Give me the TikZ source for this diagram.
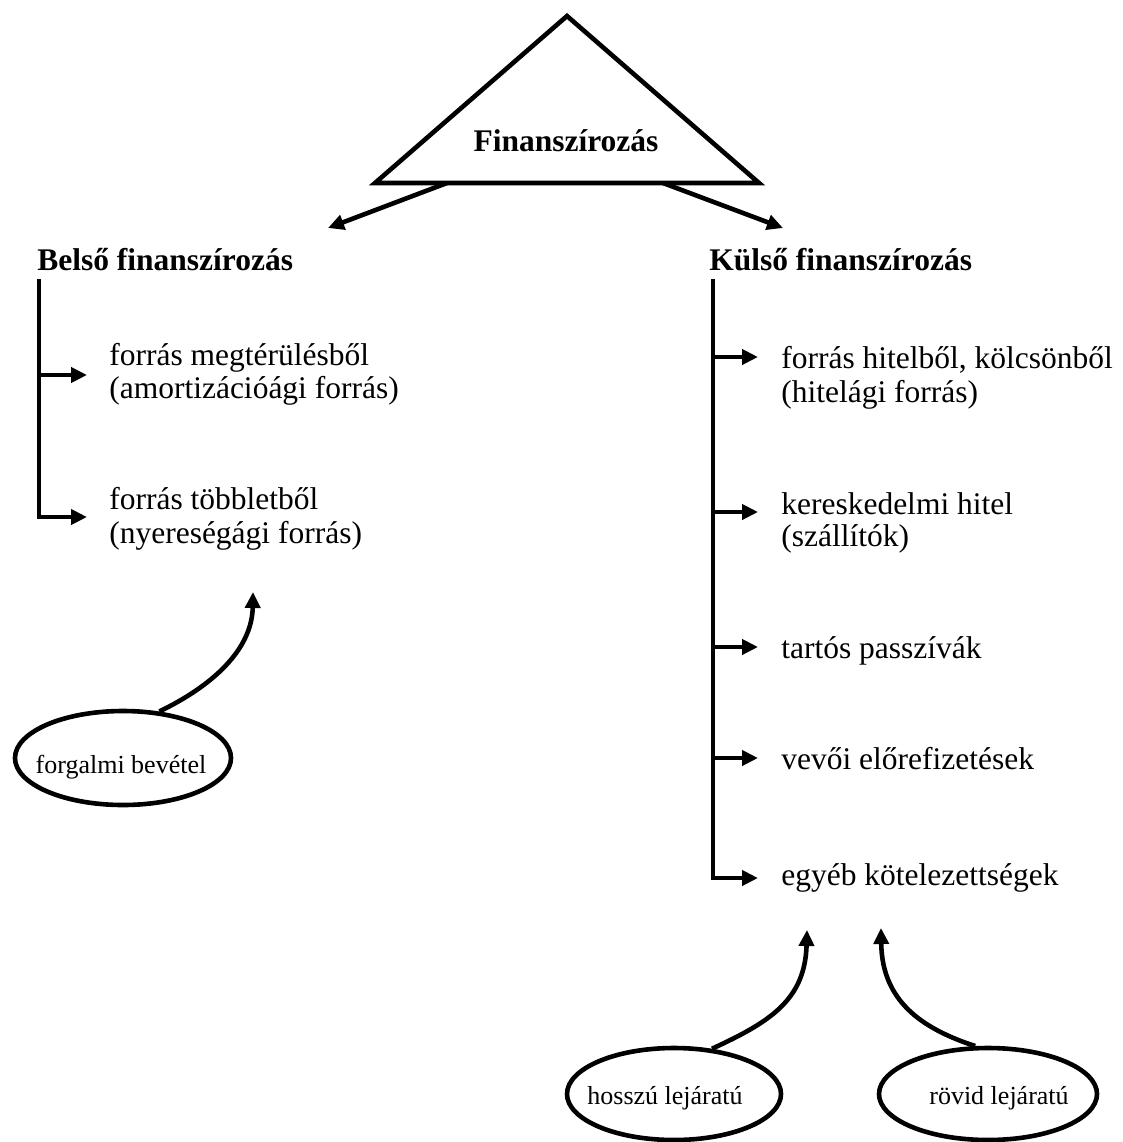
\documentclass[tikz,border=0pt]{standalone}
\usepackage{fontspec}
\setmainfont{Liberation Serif}
\usetikzlibrary{arrows.meta,shapes.geometric}

\begin{document}
\begin{tikzpicture}[x=1pt,y=-1pt,
  line width=4.6pt,
  tip/.style={-{Triangle[length=16pt,width=15pt]}},
  headtext/.style={font=\fontsize{31.5}{36}\selectfont\bfseries, inner sep=0pt, anchor=base west},
  item/.style={font=\fontsize{31.5}{36}\selectfont, inner sep=0pt, anchor=base west},
  oval/.style={draw, ellipse, inner sep=0pt, minimum width=216pt, minimum height=94pt},
  ovaltext/.style={font=\fontsize{26}{30}\selectfont, inner sep=0pt, anchor=base},
]
\useasboundingbox (0,0) rectangle (1122,1142);

% top triangle
\coordinate (apex) at (567,16);
\coordinate (bl) at (375,183);
\coordinate (br) at (759,183);
\draw (apex) -- (br) -- (bl) -- cycle;
\node[font=\fontsize{31.5}{36}\selectfont\bfseries, inner sep=0pt, anchor=base] (fin) at (566,152) {Finanszírozás};

% two branches out of the triangle
\coordinate (outL) at (447,183);
\coordinate (outR) at (663,183);
\coordinate (toL) at (328,228);
\coordinate (toR) at (783,228);
\draw[tip] (outL) -- (toL);
\draw[tip] (outR) -- (toR);

% headings
\node[headtext] (belso) at (35,270) {Belső finanszírozás};
\node[headtext] (kulso) at (707,270) {Külső finanszírozás};

% internal financing items
\node[item] (m1) at (107,365) {forrás megtérülésből};
\node[item] (m2) at (107,398) {(amortizációági forrás)};
\node[item] (t1) at (107,509) {forrás többletből};
\node[item] (t2) at (107,543) {(nyereségági forrás)};

\coordinate (spL) at (39,279);
\coordinate (aL1) at (87,375);
\coordinate (aL2) at (87,517);
\draw[tip] (spL) |- (aL2);
\draw[tip] (spL |- aL1) -- (aL1);

% external financing items
\node[item] (h1) at (779,368) {forrás hitelből, kölcsönből};
\node[item] (h2) at (779,402) {(hitelági forrás)};
\node[item] (k1) at (779,514) {kereskedelmi hitel};
\node[item] (k2) at (779,546) {(szállítók)};
\node[item] (tp) at (779,658) {tartós passzívák};
\node[item] (ve) at (779,769) {vevői előrefizetések};
\node[item] (eg) at (779,885) {egyéb kötelezettségek};

\coordinate (spR) at (713,279);
\coordinate (aR1) at (758,357);
\coordinate (aR2) at (758,512);
\coordinate (aR3) at (758,647);
\coordinate (aR4) at (758,758);
\coordinate (aR5) at (758,878);
\draw[tip] (spR) |- (aR5);
\foreach \a in {aR1,aR2,aR3,aR4}
  \draw[tip] (spR |- \a) -- (\a);

% sources feeding in
\node[oval] (forg) at (123,758) {};
\node[ovaltext] (forgtxt) at (121,773) {forgalmi bevétel};
\coordinate (forgTip) at (253,592);
\draw[tip] (forg.52) .. controls (212,686) and (252,650) .. (forgTip);

\node[oval, minimum width=214pt, minimum height=92pt] (hossz) at (674,1094) {};
\node[ovaltext] (hossztxt) at (665,1104) {hosszú lejáratú};
\coordinate (hosszTip) at (807,930);
\draw[tip] (hossz.50) .. controls (770,1022) and (805,1000) .. (hosszTip);

\node[oval, minimum width=218pt, minimum height=92pt] (rovid) at (988,1094) {};
\node[ovaltext] (rovidtxt) at (999,1104) {rövid lejáratú};
\coordinate (rovidTip) at (881,928);
\draw[tip] (rovid.105) .. controls (920,1028) and (882,1000) .. (rovidTip);
\end{tikzpicture}
\end{document}
